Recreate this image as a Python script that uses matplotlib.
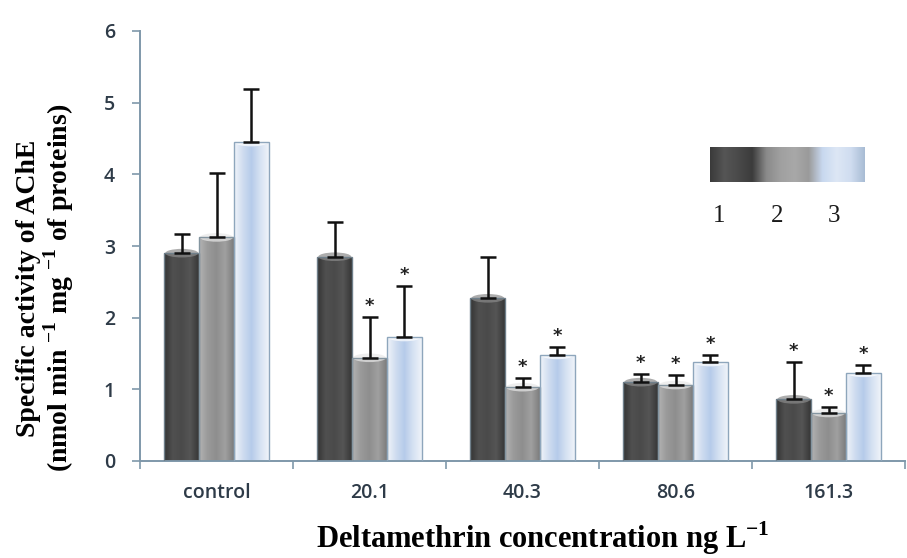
import numpy as np
import matplotlib
matplotlib.use("Agg")
import matplotlib.pyplot as plt
from matplotlib.colors import LinearSegmentedColormap
from matplotlib.patches import Ellipse

categories = ["control", "20.1", "40.3", "80.6", "161.3"]
series_names = ["1", "2", "3"]
values = {
    "1": [2.90, 2.85, 2.27, 1.10, 0.86],
    "2": [3.12, 1.44, 1.03, 1.06, 0.67],
    "3": [4.45, 1.73, 1.48, 1.38, 1.23],
}
errors = {
    "1": [0.27, 0.48, 0.58, 0.11, 0.52],
    "2": [0.90, 0.57, 0.13, 0.14, 0.08],
    "3": [0.74, 0.71, 0.11, 0.10, 0.11],
}
significant = {
    "1": [False, False, False, True, True],
    "2": [False, True, True, True, True],
    "3": [False, True, True, True, True],
}
yticks = [0, 1, 2, 3, 4, 5, 6]

# horizontal gradient profiles (left -> centre -> right)
profiles = {
    "1": ["#333333", "#505050", "#4a4a4a", "#555555", "#363636"],
    "2": ["#b4b4b4", "#9a9a9a", "#8e8e8e", "#a0a0a0", "#7c7c7c"],
    "3": ["#f2f5fa", "#d0ddf0", "#b6cbea", "#d6e2f2", "#f0f4fa"],
}
edge_cols = {"1": "#6f7f8a", "2": "#8495a0", "3": "#8ea6bc"}
top_cols = {"1": "#8a8a8a", "2": "#e8e8e8", "3": "#ffffff"}

fig = plt.figure(figsize=(9.07, 5.58), dpi=100)
ax = fig.add_axes([140/907, 1-461/558, 765/907, 430/558])

width = 0.227
offsets = [-width, 0, width]
x = np.arange(len(categories))
grad = np.linspace(0, 1, 256).reshape(1, -1)

for s, off in zip(series_names, offsets):
    cmap = LinearSegmentedColormap.from_list("c" + s, profiles[s])
    bars = ax.bar(x + off, values[s], width, color="none",
                  edgecolor=edge_cols[s], linewidth=1.0, zorder=3)
    for b in bars:
        bx, by = b.get_x(), b.get_y()
        bw, bh = b.get_width(), b.get_height()
        im = ax.imshow(grad, cmap=cmap, aspect="auto",
                       extent=[bx, bx + bw, by, by + bh], zorder=2)
        im.set_clip_path(b)
        el = Ellipse((bx + bw/2, by + bh), bw*0.95, 0.12,
                     facecolor=top_cols[s], edgecolor="none", alpha=0.7, zorder=2.5)
        ax.add_patch(el)
    ax.errorbar(x + off, values[s], yerr=[np.zeros(len(x)), errors[s]],
                fmt="none", ecolor="#111111", elinewidth=1.8, capsize=6,
                capthick=1.8, zorder=4)
    for xi, v, e, sig in zip(x + off, values[s], errors[s], significant[s]):
        if sig:
            ax.text(xi, v + e + 0.03, "*", ha="center", va="bottom",
                    fontsize=13, fontweight="bold", color="#222222", zorder=5)

ax.set_xlim(-0.5, len(categories) - 0.5)
ax.set_ylim(0, 6)
ax.set_yticks(yticks)
ax.set_xticks(x)
ax.set_xticklabels(categories)
ax.set_xticks(np.arange(len(categories) + 1) - 0.5, minor=True)
ax.tick_params(axis="x", which="major", length=0, pad=16,
               labelsize=14, labelcolor="#2e3b48")
ax.tick_params(axis="x", which="minor", length=6, width=1.2, color="#7f98aa", direction="out")
ax.tick_params(axis="y", length=6, width=1.2, color="#7f98aa", pad=12,
               labelsize=14, labelcolor="#2e3b48")
for lbl in ax.get_xticklabels() + ax.get_yticklabels():
    lbl.set_family(["Open Sans", "DejaVu Sans"])
    lbl.set_fontweight("semibold")
for sp in ["top", "right"]:
    ax.spines[sp].set_visible(False)
for sp in ["left", "bottom"]:
    ax.spines[sp].set_color("#7f98aa")
    ax.spines[sp].set_linewidth(1.4)

serif = ["Liberation Serif", "DejaVu Serif"]
ax.set_xlabel("Deltamethrin concentration ng L$^{\\mathregular{-1}}$",
              fontsize=22, fontweight="bold", family=serif)
ax.xaxis.set_label_coords((543 - 140) / 765, -(538 - 461) / 430)
ax.xaxis.label.set_va("center")
ax.set_ylabel("Specific activity of AChE\n(nmol min $^{\\mathregular{-1}}$ mg $^{\\mathregular{-1}}$ of proteins)",
              fontsize=20, fontweight="bold", family=serif,
              linespacing=1.0)
ax.yaxis.set_label_coords((76 - 140) / 765, (461 - 288) / 430)

# legend strip
lax = fig.add_axes([710/907, 1-182/558, 155/907, 35/558])
legend_profile = (["#3a3a3a", "#555555", "#4a4a4a", "#3c3c3c"] +
                  ["#8a8a8a", "#a0a0a0", "#a8a8a8", "#9a9a9a"] +
                  ["#c8d8ef", "#dde7f5", "#d0ddf0", "#a8bcd4"])
lcmap = LinearSegmentedColormap.from_list("leg", legend_profile)
lax.imshow(grad, cmap=lcmap, aspect="auto", extent=[0, 1, 0, 1])
lax.set_axis_off()
for lab, xp in zip(series_names, [719, 777, 834]):
    fig.text(xp/907, 1-216/558, lab, ha="center", va="center",
             fontsize=18, family=serif, color="#1a1a1a")

fig.savefig("out.png", dpi=100)
